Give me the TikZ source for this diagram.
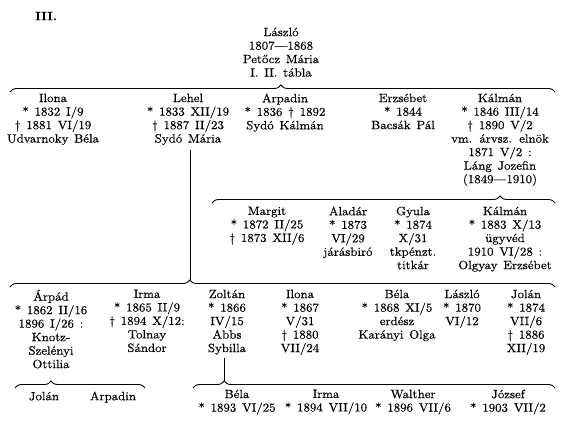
\documentclass[tikz,border=0pt]{standalone}
\usepackage{fontspec}
\setmainfont{lmroman10-regular}[Extension=.otf, BoldFont=lmroman10-bold, FakeStretch=1.07, WordSpace=1.35, FakeBold=0.3]
\usetikzlibrary{decorations.pathreplacing}
\newcommand{\gfs}{\fontsize{12}{13.5}\selectfont}
\tikzset{
  txt/.style={align=center, anchor=north, inner sep=0pt, font=\gfs,
    execute at begin node={\rule{0pt}{10.5pt}}},
  famb/.style={line width=0.9pt, decorate, decoration={brace, amplitude=7pt, aspect=#1}},
  link/.style={line width=0.9pt}
}
\begin{document}
\begin{tikzpicture}[x=1pt,y=-1pt]
\fill[white] (0,0) rectangle (565,424);
\useasboundingbox (0,0) rectangle (565,424);
% title
\node[txt, font=\gfs\bfseries] (tab) at (46,9.5) {III.};
\node[txt] (laszlo) at (281,27.5) {László\\1807—1868\\Petőcz Mária\\I. II. tábla};
% top brace
\coordinate (b1l) at (10,92);
\coordinate (b1r) at (555,92);
\draw[famb=0.497] (b1l) -- (b1r);
% row 1
\node[txt] (ilona1) at (53,93.5) {Ilona\\* 1832 I/9\\† 1881 VI/19\\Udvarnoky Béla};
\node[txt] (lehel) at (188,93.5) {Lehel\\* 1833 XII/19\\† 1887 II/23\\Sydó Mária};
\node[txt] (arpadin1) at (285,93.5) {Arpadin\\* 1836 † 1892\\Sydó Kálmán};
\node[txt] (erzsebet) at (403,93.5) {Erzsébet\\* 1844\\Bacsák Pál};
\node[txt] (kalman1) at (500,93.5) {Kálmán\\* 1846 III/14\\† 1890 V/2\\vm. árvsz. elnök\\1871 V/2 :\\Láng Jozefin\\(1849—1910)};
% Kálmán's children brace
\coordinate (b2l) at (212,203);
\coordinate (b2r) at (555,203);
\draw[famb=0.84] (b2l) -- (b2r);
% row 2
\node[txt] (margit) at (267,206.5) {Margit\\* 1872 II/25\\† 1873 XII/6};
\node[txt] (aladar) at (348,206.5) {Aladár\\* 1873\\VI/29\\járásbiró};
\node[txt] (gyula) at (413,206.5) {Gyula\\* 1874\\X/31\\tkpénzt.\\titkár};
\node[txt] (kalman2) at (505,206.5) {Kálmán\\* 1883 X/13\\ügyvéd\\1910 VI/28 :\\Olgyay Erzsébet};
% Lehel's children brace
\coordinate (b3l) at (10,287);
\coordinate (b3r) at (555,287);
\coordinate (b3t) at (190,280);
\draw[famb=0.330] (b3l) -- (b3r);
\draw[link] (lehel.south -| b3t) ++(0,5) coordinate (lehelb) -- (b3t);
% row 3
\node[txt] (arpad) at (51,289.5) {Árpád\\* 1862 II/16\\1896 I/26 :\\Knotz-\\Szelényi\\Ottilia};
\node[txt] (irma1) at (147,289.5) {Irma\\* 1865 II/9\\† 1894 X/12:\\Tolnay\\Sándor};
\node[txt] (zoltan) at (227,289.5) {Zoltán\\* 1866\\IV/15\\Abbs\\Sybilla};
\node[txt] (ilona2) at (300,289.5) {Ilona\\* 1867\\V/31\\† 1880\\VII/24};
\node[txt] (bela1) at (397,289.5) {Béla\\* 1868 XI/5\\erdész\\Karányi Olga};
\node[txt] (laszlo2) at (462,289.5) {László\\* 1870\\VI/12};
\node[txt] (jolan1) at (526,289.5) {Jolán\\* 1874\\VII/6\\† 1886\\XII/19};
% Árpád's children brace
\coordinate (b4l) at (15,388);
\coordinate (b4r) at (145,388);
\draw[famb=0.277] (b4l) -- (b4r);
% Zoltán's children brace
\coordinate (b5l) at (193,388);
\coordinate (b5r) at (555,388);
\coordinate (b5t) at (224,381);
\draw[famb=0.086] (b5l) -- (b5r);
\draw[link] (zoltan.south -| b5t) ++(0,3) -- (b5t);
% bottom row
\node[txt] (jolan2) at (44,389.5) {Jolán};
\node[txt] (arpadin2) at (113,389.5) {Arpadin};
\node[txt] (bela2) at (237,389.5) {Béla\\* 1893 VI/25};
\node[txt] (irma2) at (326,389.5) {Irma\\* 1894 VII/10};
\node[txt] (walther) at (413,389.5) {Walther\\* 1896 VII/6};
\node[txt] (jozsef) at (508,389.5) {József\\* 1903 VII/2};
\end{tikzpicture}
\end{document}
